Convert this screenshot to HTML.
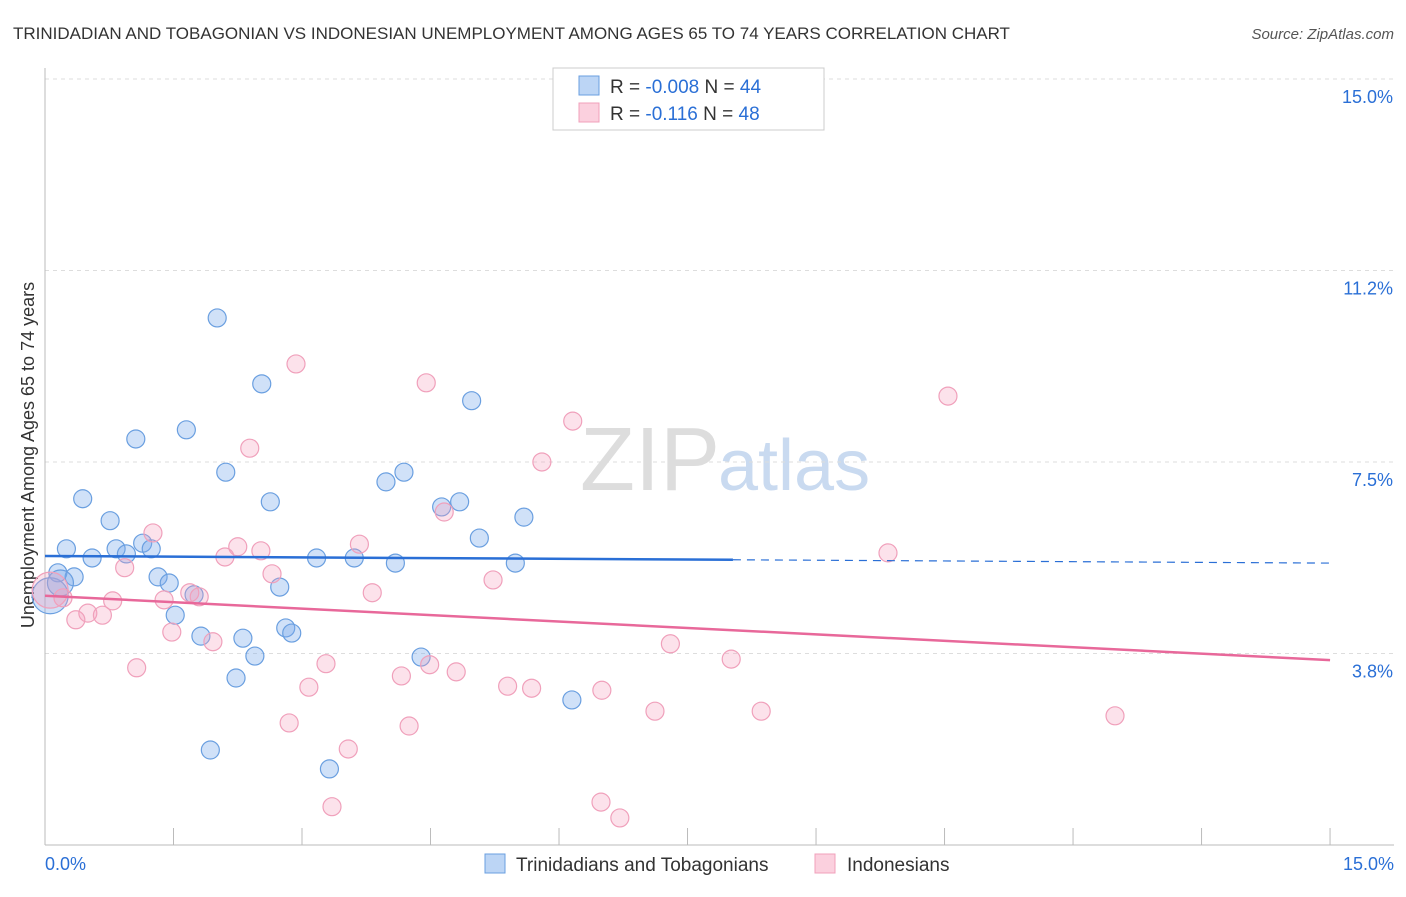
<!DOCTYPE html>
<html><head><meta charset="utf-8"><style>
body{margin:0;background:#fff;font-family:"Liberation Sans",sans-serif;}
svg text{font-family:"Liberation Sans",sans-serif;}
</style></head><body>
<svg id="c" width="1406" height="892">
<text x="13" y="39" font-size="17" fill="#333">TRINIDADIAN AND TOBAGONIAN VS INDONESIAN UNEMPLOYMENT AMONG AGES 65 TO 74 YEARS CORRELATION CHART</text>
<text x="1394" y="39" font-size="15" fill="#555" font-style="italic" text-anchor="end">Source: ZipAtlas.com</text>
<text x="720" y="490" font-size="90" fill="#ddd" text-anchor="end" font-family="Liberation Serif">ZIP</text>
<text x="718" y="490" font-size="72" fill="#c9daf0">atlas</text>
<text transform="translate(34,455) rotate(-90)" font-size="18" fill="#333" text-anchor="middle">Unemployment Among Ages 65 to 74 years</text>
<g id="grid"></g><g id="pts"></g><g id="lines"></g>
<g>
<rect x="553" y="68" width="271" height="62" fill="#fff" stroke="#ccc"/>
<rect x="579" y="76" width="20" height="19" fill="#bcd5f5" stroke="#6a9fe0"/>
<rect x="579" y="103" width="20" height="19" fill="#fbd0de" stroke="#f0a0bb"/>
<text x="610" y="93" font-size="19" fill="#333">R = <tspan fill="#2a6fd6">-0.008</tspan>   N = <tspan fill="#2a6fd6">44</tspan></text>
<text x="610" y="120" font-size="19" fill="#333">R =   <tspan fill="#2a6fd6">-0.116</tspan>   N = <tspan fill="#2a6fd6">48</tspan></text>
</g>
<g>
<rect x="485" y="854" width="20" height="19" fill="#bcd5f5" stroke="#6a9fe0"/>
<text x="516" y="871" font-size="19" fill="#333">Trinidadians and Tobagonians</text>
<rect x="815" y="854" width="20" height="19" fill="#fbd0de" stroke="#f0a0bb"/>
<text x="847" y="871" font-size="19" fill="#333">Indonesians</text>
</g>
</svg>
<script>
const yTicks=[3.75,7.5,11.25,15];
const yTickLabels=["3.8%","7.5%","11.2%","15.0%"];
const xTicks=[0,1.5,3,4.5,6,7.5,9,10.5,12,13.5,15];
const blueX=[2.01,2.53,1.65,1.06,4.98,2.11,4.19,3.98,0.44,2.63,4.84,4.63,0.76,5.59,5.07,0.25,0.83,1.14,1.24,0.55,0.95,3.17,3.61,4.09,5.49,0.15,0.34,1.32,1.45,1.74,2.74,1.52,1.82,2.31,2.81,2.88,2.45,4.39,2.23,6.15,1.93,3.32,0.06,0.18];
const blueY=[10.32,9.03,8.13,7.95,8.70,7.30,7.30,7.11,6.78,6.72,6.72,6.62,6.35,6.42,6.01,5.80,5.80,5.91,5.80,5.62,5.70,5.62,5.62,5.52,5.52,5.33,5.25,5.25,5.13,4.90,5.05,4.50,4.09,4.05,4.25,4.15,3.70,3.68,3.27,2.84,1.86,1.49,4.88,5.13];
const pinkX=[2.93,4.45,10.54,2.39,6.16,5.80,4.66,1.26,2.25,2.52,3.67,2.10,9.84,0.93,2.65,5.23,3.82,1.69,1.80,1.39,0.79,0.21,0.50,0.67,0.36,1.48,1.96,7.30,8.01,1.07,3.28,4.49,4.80,4.16,3.08,5.40,5.68,6.50,2.85,4.25,7.12,8.36,12.49,3.54,3.35,6.49,6.71,0.06];
const pinkY=[9.42,9.05,8.79,7.77,8.30,7.50,6.52,6.11,5.84,5.76,5.89,5.64,5.72,5.43,5.31,5.19,4.94,4.94,4.86,4.80,4.78,4.84,4.54,4.50,4.41,4.17,3.98,3.94,3.64,3.47,3.55,3.53,3.39,3.31,3.09,3.11,3.07,3.03,2.39,2.33,2.62,2.62,2.53,1.88,0.75,0.84,0.53,4.99];
const blueTrend=[5.66,5.52], pinkTrend=[4.88,3.62], blueSolidEnd=8.03;
const X=v=>45+v*85.67, Y=v=>845-v*51.07;
const NS="http://www.w3.org/2000/svg";
function mk(t,a,p){const e=document.createElementNS(NS,t);for(const k in a)e.setAttribute(k,a[k]);p.appendChild(e);return e;}
const g=document.getElementById('grid'),svg=document.getElementById('c');
yTicks.forEach((v,i)=>{
 const l=mk('line',{x1:45,x2:1394,y1:Y(v),y2:Y(v),stroke:'#ddd','stroke-dasharray':'4,4'},g);
 
 
 const t=mk('text',{x:1393,y:Y(v)+24,'font-size':18,fill:'#2a6fd6','text-anchor':'end'},g);t.textContent=yTickLabels[i];
 
 
});
const ax=mk('line',{x1:45,x2:45,y1:68,y2:845,stroke:'#bbb'},g);


const bx=mk('line',{x1:45,x2:1394,y1:845,y2:845,stroke:'#bbb'},g);


xTicks.forEach(v=>{const t=mk('line',{x1:X(v),x2:X(v),y1:828,y2:845,stroke:'#bbb'},g);
 
 });
[[0,"0.0%",'start',45],[15,"15.0%",'end',1394]].forEach(a=>{const t=mk('text',{x:a[3],y:870,'font-size':18,fill:'#2a6fd6','text-anchor':a[2]},g);t.textContent=a[1];
 
 });
const P=document.getElementById('pts');
function pts(xs,ys,fill,stroke,name,bigIdx){xs.forEach((x,i)=>{const r=i===bigIdx?18:(i===xs.length-1&&name==='blue-point'?13:9);
 const c=mk('circle',{cx:X(x),cy:Y(ys[i]),r:r,fill:fill,stroke:stroke,'stroke-width':1.2},P);
 
 });}
pts(blueX,blueY,'rgba(120,170,235,0.35)','#6a9fe0','blue-point',42);
pts(pinkX,pinkY,'rgba(245,160,190,0.3)','#f0a0bb','pink-point',47);
const L=document.getElementById('lines');
const slope=(blueTrend[1]-blueTrend[0])/15;
const b1=mk('line',{x1:X(0),y1:Y(blueTrend[0]),x2:X(blueSolidEnd),y2:Y(blueTrend[0]+slope*blueSolidEnd),stroke:'#2a6fd6','stroke-width':2.5},L);


const b2=mk('line',{x1:X(blueSolidEnd),y1:Y(blueTrend[0]+slope*blueSolidEnd),x2:X(15),y2:Y(blueTrend[1]),stroke:'#2a6fd6','stroke-width':1.2,'stroke-dasharray':'8,6'},L);


const p1=mk('line',{x1:X(0),y1:Y(pinkTrend[0]),x2:X(15),y2:Y(pinkTrend[1]),stroke:'#e8689a','stroke-width':2.5},L);


</script>
</body></html>
